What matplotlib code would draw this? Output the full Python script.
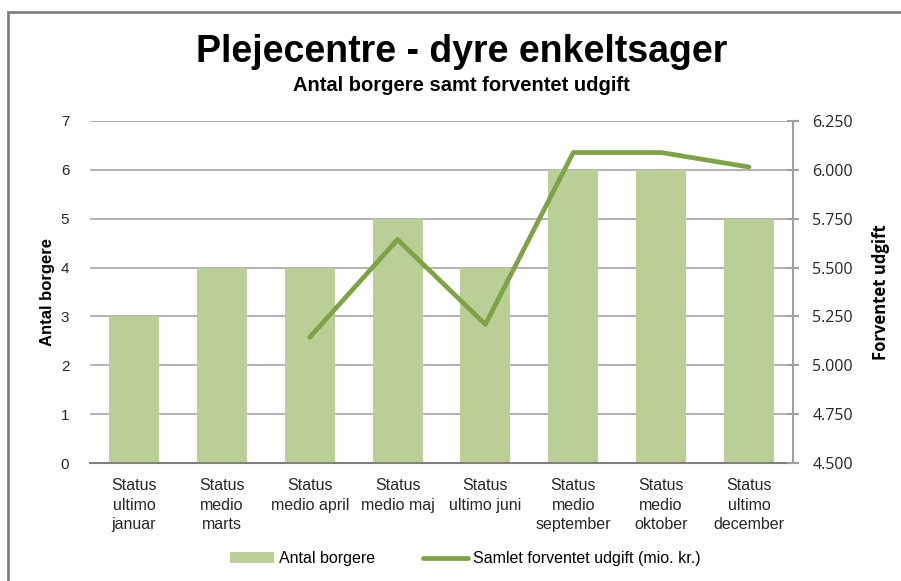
import numpy as np
import matplotlib.pyplot as plt
from matplotlib.patches import Rectangle
from matplotlib.ticker import FuncFormatter

categories = ["Status\nultimo\njanuar", "Status\nmedio\nmarts", "Status\nmedio april",
              "Status\nmedio maj", "Status\nultimo juni", "Status\nmedio\nseptember",
              "Status\nmedio\noktober", "Status\nultimo\ndecember"]
antal_borgere = [3, 4, 4, 5, 4, 6, 6, 5]
udgift = [np.nan, np.nan, 5.143, 5.643, 5.209, 6.088, 6.088, 6.014]

bar_color = '#b9cf96'
line_color = '#7ea346'
arial = ['Liberation Sans', 'DejaVu Sans']

fig = plt.figure(figsize=(9.01, 5.81), dpi=100)
ax = fig.add_axes([0.1, 0.203, 0.78, 0.589])
ax2 = ax.twinx()

x = np.arange(len(categories))
ax.bar(x, antal_borgere, width=0.57, color=bar_color, label='Antal borgere', zorder=2)
ax2.plot(x, udgift, color=line_color, lw=3.4, label='Samlet forventet udgift (mio. kr.)',
         solid_capstyle='round', zorder=3)

ax.set_xlim(-0.5, len(categories) - 0.5)
ax.set_ylim(0, 7)
ax.set_yticks(range(0, 8))
ax2.set_ylim(4.5, 6.25)
ax2.set_yticks(np.arange(4.5, 6.26, 0.25))
ax2.yaxis.set_major_formatter(FuncFormatter(lambda v, p: f"{v:.3f}"))

ax.grid(axis='y', color='#a6a6a6', lw=1.2, zorder=0)
ax.set_axisbelow(True)
for s in ['left', 'top', 'right']:
    ax.spines[s].set_visible(False)
for s in ['left', 'top', 'bottom']:
    ax2.spines[s].set_visible(False)
ax.spines['bottom'].set_color('#808080')
ax.spines['bottom'].set_linewidth(1.5)
ax2.spines['right'].set_color('#a0a0a0')
ax2.spines['right'].set_linewidth(1.5)

ax.tick_params(axis='x', length=0, pad=11)
ax.set_xticks(x)
ax.set_xticklabels(categories, fontsize=11.5, family=arial, color='#262626', linespacing=1.35)
ax.tick_params(axis='y', length=0, labelsize=11, labelcolor='#262626', pad=15)
for t in ax.get_yticklabels():
    t.set_family(arial)
ax2.tick_params(axis='y', length=8, color='#a0a0a0', width=1.5, labelsize=11.5,
                labelcolor='#262626', pad=10, direction='inout')
for t in ax2.get_yticklabels():
    t.set_family(['Open Sans', 'DejaVu Sans'])

ax.set_ylabel('Antal borgere', fontsize=12, fontweight='bold', family=arial, labelpad=4)
ax2.set_ylabel('Forventet udgift', fontsize=12, fontweight='bold',
               family=['Open Sans', 'DejaVu Sans'], labelpad=14)

fig.text(0.512, 0.91, 'Plejecentre - dyre enkeltsager', ha='center', va='center',
         fontsize=27, fontweight='bold', family=arial)
fig.text(0.512, 0.852, 'Antal borgere samt forventet udgift', ha='center', va='center',
         fontsize=14.5, fontweight='bold', family=arial)

h1, l1 = ax.get_legend_handles_labels()
h2, l2 = ax2.get_legend_handles_labels()
fig.legend(h1 + h2, l1 + l2, loc='center', bbox_to_anchor=(0.516, 0.038), ncol=2,
           frameon=False, prop={'family': arial, 'size': 11.5},
           handlelength=2.8, handletextpad=0.3, columnspacing=3.0)

fig.patches.append(Rectangle((8 / 901, -0.05), 1.1, 1 - 12 / 581 + 0.05,
                             transform=fig.transFigure, fill=False,
                             edgecolor='#808080', lw=2))

fig.savefig('out.png', dpi=100)
